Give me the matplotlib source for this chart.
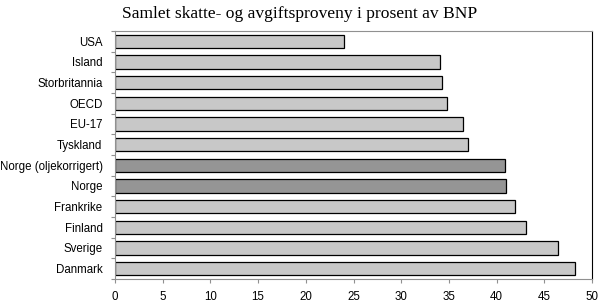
import numpy as np
import matplotlib
matplotlib.use("Agg")
from matplotlib import pyplot as plt

# data, top to bottom as in the chart
land = ["USA", "Island", "Storbritannia", "OECD", "EU-17", "Tyskland",
        "Norge (oljekorrigert)", "Norge", "Frankrike", "Finland", "Sverige", "Danmark"]
andel = [24.0, 34.1, 34.3, 34.8, 36.5, 37.0, 40.9, 41.0, 41.9, 43.1, 46.4, 48.2]
norsk = ["Norge (oljekorrigert)", "Norge"]

xticks = list(range(0, 51, 5))

plt.rcParams['font.family'] = ['Liberation Sans', 'DejaVu Sans']

fig = plt.figure(figsize=(6.0, 3.05), dpi=100)
ax = fig.add_axes([115/600, 1 - 279/305, (592 - 115)/600, (279 - 31)/305])

farger = ["#959595" if l in norsk else "#c8c8c8" for l in land]
y = np.arange(len(land))
ax.barh(y, andel, height=0.65, color=farger, edgecolor="black", linewidth=0.9)

ax.set_xlim(0, 50)
ax.set_ylim(len(land) - 0.5, -0.5)

ax.set_xticks(xticks)
ax.set_xticklabels([str(t) for t in xticks], fontsize=8.3)
ax.set_yticks(y)
ax.set_yticklabels(land, fontsize=8.3)
ax.set_yticks(np.arange(-0.5, len(land), 1), minor=True)
ax.tick_params(axis="y", which="major", length=0, pad=9)
ax.tick_params(axis="y", which="minor", length=3, color="#909090", width=0.8)
ax.tick_params(axis="x", which="major", length=3, color="#909090", width=0.8, pad=6)

for s in ["left", "bottom", "top"]:
    ax.spines[s].set_color("#909090")
    ax.spines[s].set_linewidth(0.8)
ax.spines["right"].set_color("black")
ax.spines["right"].set_linewidth(0.8)

fig.text(0.5, 1 - 14/305, "Samlet skatte- og avgiftsproveny i prosent av BNP",
         ha="center", va="center", fontsize=12.6, family="Liberation Serif")

fig.savefig("out.png", dpi=100)
